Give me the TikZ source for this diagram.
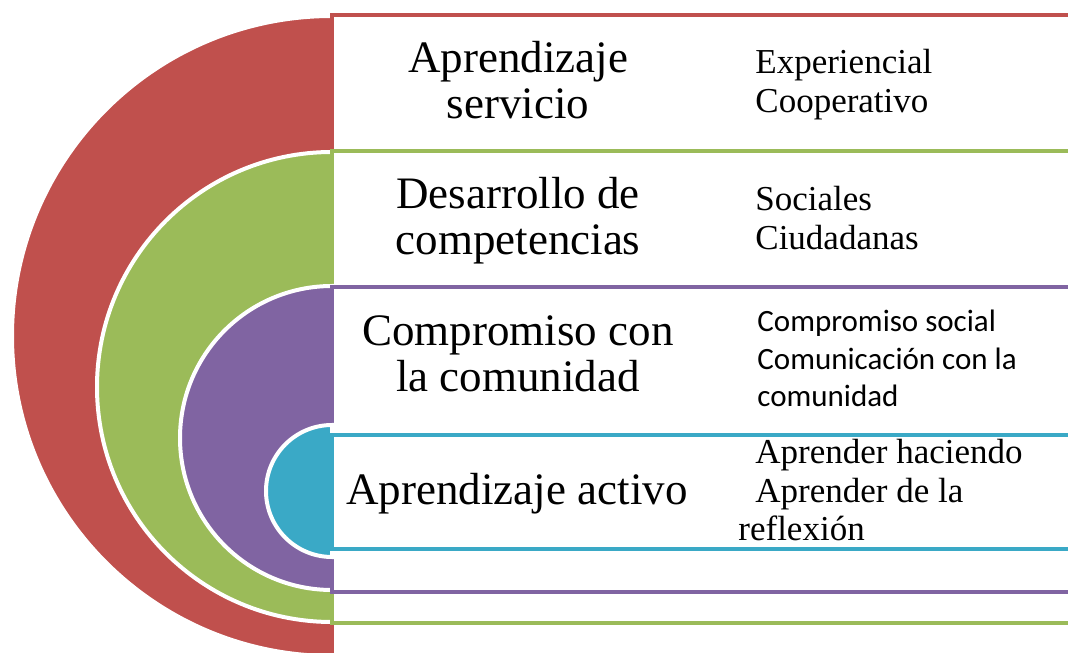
\documentclass[tikz,border=0pt]{standalone}
\usepackage{fontspec}
\setmainfont{Liberation Serif}
\newfontfamily\carlito{Carlito}
\usepackage{tikz}
\usetikzlibrary{positioning}
\definecolor{rojo}{HTML}{C0504D}
\definecolor{verde}{HTML}{9BBB59}
\definecolor{morado}{HTML}{8064A2}
\definecolor{celeste}{HTML}{3AA9C6}

\begin{document}
\begin{tikzpicture}[x=0.5pt, y=0.5pt]
        \tikzstyle{capa}=[draw=white, line width=2pt];
        \tikzstyle{caja}=[fill=white, line width=1.6pt];
        \tikzstyle{titulo}=[anchor=base, align=center, inner sep=0pt, font=\fontsize{22.5}{23}\selectfont];
        \tikzstyle{lista}=[anchor=base west, align=left, inner sep=0pt, font=\fontsize{17.5}{19.5}\selectfont];
        \useasboundingbox (0,0) rectangle (1068,652);
        \clip (0,0) rectangle (1068,652);

        \filldraw[capa, fill=rojo] (332,636) arc (90:270:320) -- cycle;
        \draw[caja, draw=rojo] (332,-10) rectangle (1090,637);
        \filldraw[capa, fill=verde] (332,500) arc (90:270:235) -- cycle;
        \draw[caja, draw=verde] (332,29) rectangle (1090,501);
        \filldraw[capa, fill=morado] (332,366) arc (90:270:152) -- cycle;
        \draw[caja, draw=morado] (332,60) rectangle (1090,365);
        \filldraw[capa, fill=celeste] (332,227) arc (90:270:66) -- cycle;
        \draw[caja, draw=celeste] (332,103) rectangle (1090,217);

        \node[titulo] (serv) at (518,533) {Aprendizaje\\servicio};
        \node[lista] (servlist) at (755,539) {Experiencial\\Cooperativo};
        \node[titulo] (comp) at (518,397) {Desarrollo de\\competencias};
        \node[lista] (complist) at (755,402) {Sociales\\Ciudadanas};
        \node[titulo] (comu) at (518,260) {Compromiso con\\la comunidad};
        \node[lista, font=\carlito\fontsize{15.5}{18.75}\selectfont] (comulist) at (757,245) {Compromiso social\\Comunicación con la\\comunidad};
        \node[titulo] (activo) at (517,147) {Aprendizaje activo};
        \node[lista, font=\fontsize{17.5}{19}\selectfont] (activolist) at (738,112) {\hspace*{8.5pt}Aprender haciendo\\\hspace*{8.5pt}Aprender de la\\reflexión};
\end{tikzpicture}
\end{document}
